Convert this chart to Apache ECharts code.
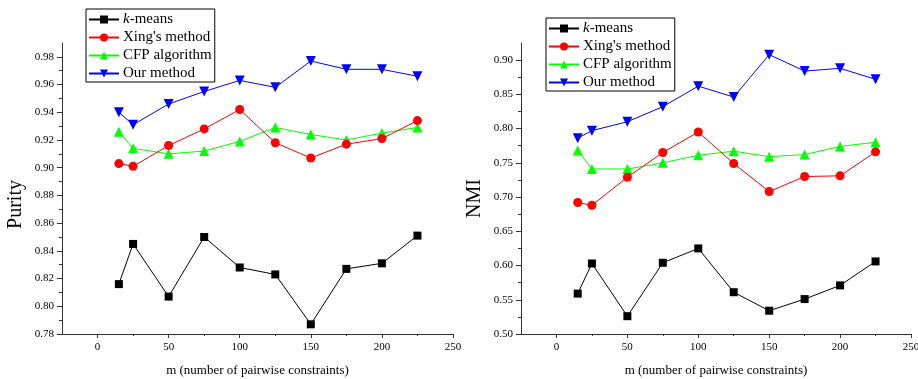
<!DOCTYPE html>
<html>
<head>
<meta charset="utf-8">
<script src="https://cdn.jsdelivr.net/npm/echarts@6/dist/echarts.min.js"></script>
<style>html,body{margin:0;padding:0;background:#fff}#c{width:918px;height:379px}</style>
</head>
<body>
<div id="c"></div>
<script>
// ---- data ----
var mValues = [15, 25, 50, 75, 100, 125, 150, 175, 200, 225];
var seriesNames = ['k-means', "Xing's method", 'CFP algorithm', 'Our method'];

var purityKmeans = [0.816, 0.845, 0.807, 0.850, 0.828, 0.823, 0.787, 0.827, 0.831, 0.851];
var purityXing   = [0.903, 0.901, 0.916, 0.928, 0.942, 0.918, 0.907, 0.917, 0.921, 0.934];
var purityCFP    = [0.926, 0.914, 0.910, 0.912, 0.919, 0.929, 0.924, 0.920, 0.925, 0.929];
var purityOur    = [0.940, 0.931, 0.946, 0.955, 0.963, 0.958, 0.977, 0.971, 0.971, 0.966];

var nmiKmeans = [0.559, 0.603, 0.526, 0.604, 0.625, 0.561, 0.534, 0.551, 0.571, 0.606];
var nmiXing   = [0.692, 0.688, 0.729, 0.765, 0.795, 0.749, 0.708, 0.730, 0.731, 0.766];
var nmiCFP    = [0.768, 0.741, 0.741, 0.750, 0.761, 0.767, 0.759, 0.762, 0.774, 0.780];
var nmiOur    = [0.786, 0.797, 0.810, 0.832, 0.862, 0.846, 0.908, 0.884, 0.888, 0.872];

var xMajorTicks = [0, 50, 100, 150, 200, 250];
var xMinorTicks = [25, 75, 125, 175, 225];
var purityMajorTicks = [0.78, 0.80, 0.82, 0.84, 0.86, 0.88, 0.90, 0.92, 0.94, 0.96, 0.98];
var purityMinorTicks = [0.79, 0.81, 0.83, 0.85, 0.87, 0.89, 0.91, 0.93, 0.95, 0.97];
var nmiMajorTicks = [0.50, 0.55, 0.60, 0.65, 0.70, 0.75, 0.80, 0.85, 0.90];
var nmiMinorTicks = [0.525, 0.575, 0.625, 0.675, 0.725, 0.775, 0.825, 0.875];

// ---- chart ----
var FONT = '"Liberation Serif", "DejaVu Serif", serif';
var colors = ['#000000', '#ff0000', '#00ff00', '#0000ff'];
var symbols = ['rect', 'circle', 'triangle', 'path://M0,0 L10,0 L5,9 Z'];
var symSizes = [8, 9, 10, 10];
var AX = '#333333';

function pairs(vals) { return mValues.map(function (x, i) { return [x, vals[i]]; }); }

function xAxes(gi) {
  return [{
    type: 'value', gridIndex: gi, min: -25, max: 250, position: 'bottom',
    axisLine: { show: true, onZero: false, lineStyle: { color: AX, width: 1 } },
    axisTick: { show: true, customValues: xMajorTicks, length: 4, lineStyle: { color: AX } },
    axisLabel: { customValues: xMajorTicks, fontFamily: FONT, fontSize: 11, color: '#000', margin: 8 },
    splitLine: { show: false },
    name: 'm (number of pairwise constraints)', nameLocation: 'middle', nameGap: 30,
    nameTextStyle: { fontFamily: FONT, fontSize: 13, color: '#000' }
  }, {
    type: 'value', gridIndex: gi, min: -25, max: 250, position: 'bottom',
    axisLine: { show: false, onZero: false },
    axisTick: { show: true, customValues: xMinorTicks, length: 2, lineStyle: { color: AX } },
    axisLabel: { show: false }, splitLine: { show: false }
  }];
}

function yAxes(gi, min, max, major, minor, name, pad) {
  return [{
    type: 'value', gridIndex: gi, min: min, max: max, position: 'left',
    axisLine: { show: true, onZero: false, lineStyle: { color: AX, width: 1 } },
    axisTick: { show: true, customValues: major, length: 5, lineStyle: { color: AX } },
    axisLabel: { customValues: major, fontFamily: FONT, fontSize: 11, color: '#000', margin: 8,
      formatter: function (v) { return v.toFixed(2); } },
    splitLine: { show: false },
    name: name, nameLocation: 'middle', nameGap: 36, nameRotate: 90,
    nameTextStyle: { fontFamily: FONT, fontSize: 20, color: '#000', padding: pad }
  }, {
    type: 'value', gridIndex: gi, min: min, max: max, position: 'left',
    axisLine: { show: false, onZero: false },
    axisTick: { show: true, customValues: minor, length: 3, lineStyle: { color: AX } },
    axisLabel: { show: false }, splitLine: { show: false }
  }];
}

function mkSeries(arrs, xi, yi) {
  return arrs.map(function (vals, k) {
    return {
      name: seriesNames[k], type: 'line', xAxisIndex: xi, yAxisIndex: yi,
      data: pairs(vals), symbol: symbols[k], symbolSize: symSizes[k],
      lineStyle: { color: colors[k], width: 1 },
      itemStyle: { color: colors[k] }, animation: false, z: 2 + (3 - k)
    };
  });
}

function legend(left, top) {
  return {
    orient: 'vertical', left: left, top: top, data: seriesNames,
    itemWidth: 30, itemHeight: 10, itemGap: 3,
    padding: [3, 3, 1, 2], borderColor: '#000', borderWidth: 1,
    textStyle: { fontFamily: FONT, fontSize: 15, color: '#000', lineHeight: 15,
      padding: [0, 0, 0, -1], rich: { i: { fontFamily: FONT, fontSize: 15, fontStyle: 'italic', lineHeight: 15 } } },
    formatter: function (n) { return n === 'k-means' ? '{i|k}-means' : n; },
    selectedMode: false
  };
}

var chart = echarts.init(document.getElementById('c'), null, { renderer: 'canvas' });
chart.setOption({
  backgroundColor: '#fff',
  animation: false,
  grid: [
    { left: 62, right: 465, top: 43, bottom: 45, containLabel: false, outerBoundsMode: 'none' },
    { left: 521, right: 7, top: 43, bottom: 45, containLabel: false, outerBoundsMode: 'none' }
  ],
  legend: [legend(86, 9), legend(546, 18)],
  xAxis: xAxes(0).concat(xAxes(1)),
  yAxis: yAxes(0, 0.78, 0.99, purityMajorTicks, purityMinorTicks, 'Purity', [0, 32, 0, 0])
    .concat(yAxes(1, 0.50, 0.925, nmiMajorTicks, nmiMinorTicks, 'NMI', [0, 20, 0, 0])),
  series: mkSeries([purityKmeans, purityXing, purityCFP, purityOur], 0, 0)
    .concat(mkSeries([nmiKmeans, nmiXing, nmiCFP, nmiOur], 2, 2))
});
</script>
</body>
</html>
